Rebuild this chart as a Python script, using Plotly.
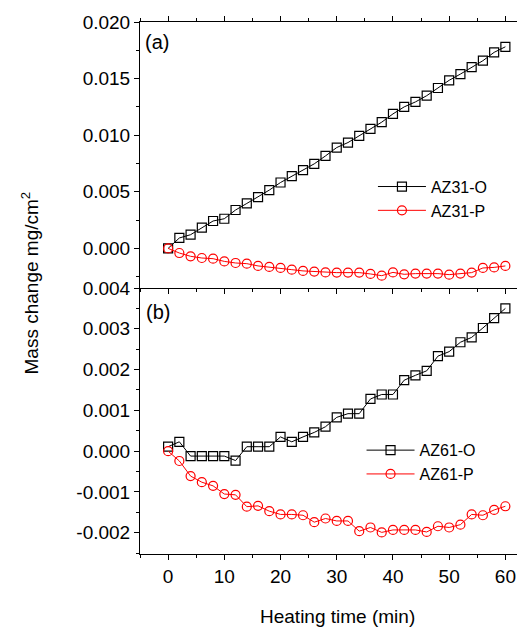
import plotly.graph_objects as go
from plotly.subplots import make_subplots

time_min = [0, 2, 4, 6, 8, 10, 12, 14, 16, 18, 20, 22, 24, 26, 28, 30,
            32, 34, 36, 38, 40, 42, 44, 46, 48, 50, 52, 54, 56, 58, 60]

az31_o = [0.0, 0.00092, 0.00121, 0.00183, 0.00242, 0.00262, 0.00339, 0.00397,
          0.00453, 0.00515, 0.00582, 0.00638, 0.00691, 0.00747, 0.00817, 0.00891,
          0.00935, 0.00994, 0.01056, 0.01115, 0.01188, 0.0125, 0.01294, 0.01349,
          0.01417, 0.01485, 0.0154, 0.01602, 0.01658, 0.01732, 0.01781]
az31_p = [0.0, -0.00041, -0.0007, -0.00085, -0.00091, -0.00115, -0.00129, -0.00135,
          -0.00155, -0.00164, -0.00173, -0.00188, -0.00199, -0.00205, -0.00212, -0.00214,
          -0.00214, -0.00214, -0.00226, -0.00241, -0.00212, -0.00229, -0.00223, -0.00223,
          -0.00223, -0.00232, -0.00223, -0.00214, -0.00173, -0.00168, -0.00155]

az61_o = [0.00011, 0.00023, -0.00012, -0.00012, -0.00012, -0.00012, -0.00023, 0.00011,
          0.00011, 0.00011, 0.00035, 0.00023, 0.00035, 0.00046, 0.0006, 0.00083,
          0.00092, 0.00092, 0.00128, 0.00139, 0.00139, 0.00174, 0.00186, 0.00197,
          0.00233, 0.00244, 0.00267, 0.00279, 0.00302, 0.00326, 0.0035]
az61_p = [0.0, -0.00024, -0.00061, -0.00076, -0.00085, -0.00105, -0.00107, -0.00136,
          -0.00134, -0.00147, -0.00155, -0.00155, -0.00157, -0.00174, -0.00165, -0.00171,
          -0.00171, -0.00196, -0.00187, -0.00199, -0.00193, -0.00193, -0.00193, -0.00198,
          -0.00184, -0.00187, -0.0018, -0.00155, -0.00157, -0.00144, -0.00135]

top_ticks = [0.0, 0.005, 0.010, 0.015, 0.020]
top_ticktext = ["0.000", "0.005", "0.010", "0.015", "0.020"]
bot_ticks = [-0.002, -0.001, 0.0, 0.001, 0.002, 0.003, 0.004]
bot_ticktext = ["-0.002", "-0.001", "0.000", "0.001", "0.002", "0.003", "0.004"]
x_ticks = [0, 10, 20, 30, 40, 50, 60]

FONT = "Liberation Sans, Arial, sans-serif"

fig = make_subplots(rows=2, cols=1, shared_xaxes=False, vertical_spacing=0.0)

fig.add_trace(go.Scatter(x=time_min, y=az31_o, mode="lines+markers", name="AZ31-O",
                         line=dict(color="black", width=1),
                         marker=dict(symbol="square-open", size=9, color="black",
                                     line=dict(width=1.2)),
                         legend="legend"), row=1, col=1)
fig.add_trace(go.Scatter(x=time_min, y=az31_p, mode="lines+markers", name="AZ31-P",
                         line=dict(color="red", width=1),
                         marker=dict(symbol="circle-open", size=9, color="red",
                                     line=dict(width=1.2)),
                         legend="legend"), row=1, col=1)
fig.add_trace(go.Scatter(x=time_min, y=az61_o, mode="lines+markers", name="AZ61-O",
                         line=dict(color="black", width=1),
                         marker=dict(symbol="square-open", size=9, color="black",
                                     line=dict(width=1.2)),
                         legend="legend2"), row=2, col=1)
fig.add_trace(go.Scatter(x=time_min, y=az61_p, mode="lines+markers", name="AZ61-P",
                         line=dict(color="red", width=1),
                         marker=dict(symbol="circle-open", size=9, color="red",
                                     line=dict(width=1.2)),
                         legend="legend2"), row=2, col=1)

axis_common = dict(showline=True, linecolor="black", linewidth=1, ticks="outside",
                   tickcolor="black", tickwidth=1, ticklen=5, showgrid=False,
                   zeroline=False, tickfont=dict(family=FONT, size=19, color="black"))

fig.update_xaxes(range=[-5, 62.6], tickvals=x_ticks, mirror="ticks", showticklabels=False,
                 minor=dict(ticks="outside", ticklen=3, dtick=5, tick0=0, tickcolor="black"),
                 row=1, col=1, **axis_common)
fig.update_xaxes(range=[-5, 62.6], tickvals=x_ticks, mirror=False, showticklabels=True,
                 minor=dict(ticks="outside", ticklen=3, dtick=5, tick0=0, tickcolor="black"),
                 row=2, col=1, **axis_common)
fig.update_yaxes(range=[-0.0035, 0.020], tickvals=top_ticks, ticktext=top_ticktext,
                 minor=dict(ticks="outside", ticklen=3, dtick=0.0025, tick0=0, tickcolor="black"),
                 row=1, col=1, **axis_common)
fig.update_yaxes(range=[-0.00252, 0.004], tickvals=bot_ticks, ticktext=bot_ticktext,
                 minor=dict(ticks="outside", ticklen=3, dtick=0.0005, tick0=0, tickcolor="black"),
                 row=2, col=1, **axis_common)

fig.update_layout(
    width=517, height=619,
    margin=dict(l=132, r=5, t=14, b=73),
    paper_bgcolor="white", plot_bgcolor="white",
    font=dict(family=FONT, size=19, color="black"),
    legend=dict(x=0.613, y=0.7225, xanchor="left", yanchor="top", bgcolor="rgba(0,0,0,0)",
                font=dict(family=FONT, size=16, color="black"), itemwidth=48,
                tracegroupgap=0),
    legend2=dict(x=0.583, y=0.227, xanchor="left", yanchor="top", bgcolor="rgba(0,0,0,0)",
                 font=dict(family=FONT, size=16, color="black"), itemwidth=48,
                 tracegroupgap=0),
    annotations=[
        dict(text="(a)", xref="paper", yref="paper", x=0.008, y=0.962, xanchor="left",
             yanchor="middle", showarrow=False, font=dict(family=FONT, size=20)),
        dict(text="(b)", xref="paper", yref="paper", x=0.01, y=0.455, xanchor="left",
             yanchor="middle", showarrow=False, font=dict(family=FONT, size=20)),
        dict(text="Heating time (min)", xref="paper", yref="paper", x=0.521, y=-0.118,
             xanchor="center", yanchor="middle", showarrow=False,
             font=dict(family=FONT, size=19)),
        dict(text="Mass change mg/cm<sup>2</sup>", xref="paper", yref="paper", x=-0.29,
             y=0.51, xanchor="center", yanchor="middle", textangle=-90, showarrow=False,
             font=dict(family=FONT, size=19)),
    ],
)

fig.write_html("out.html")
